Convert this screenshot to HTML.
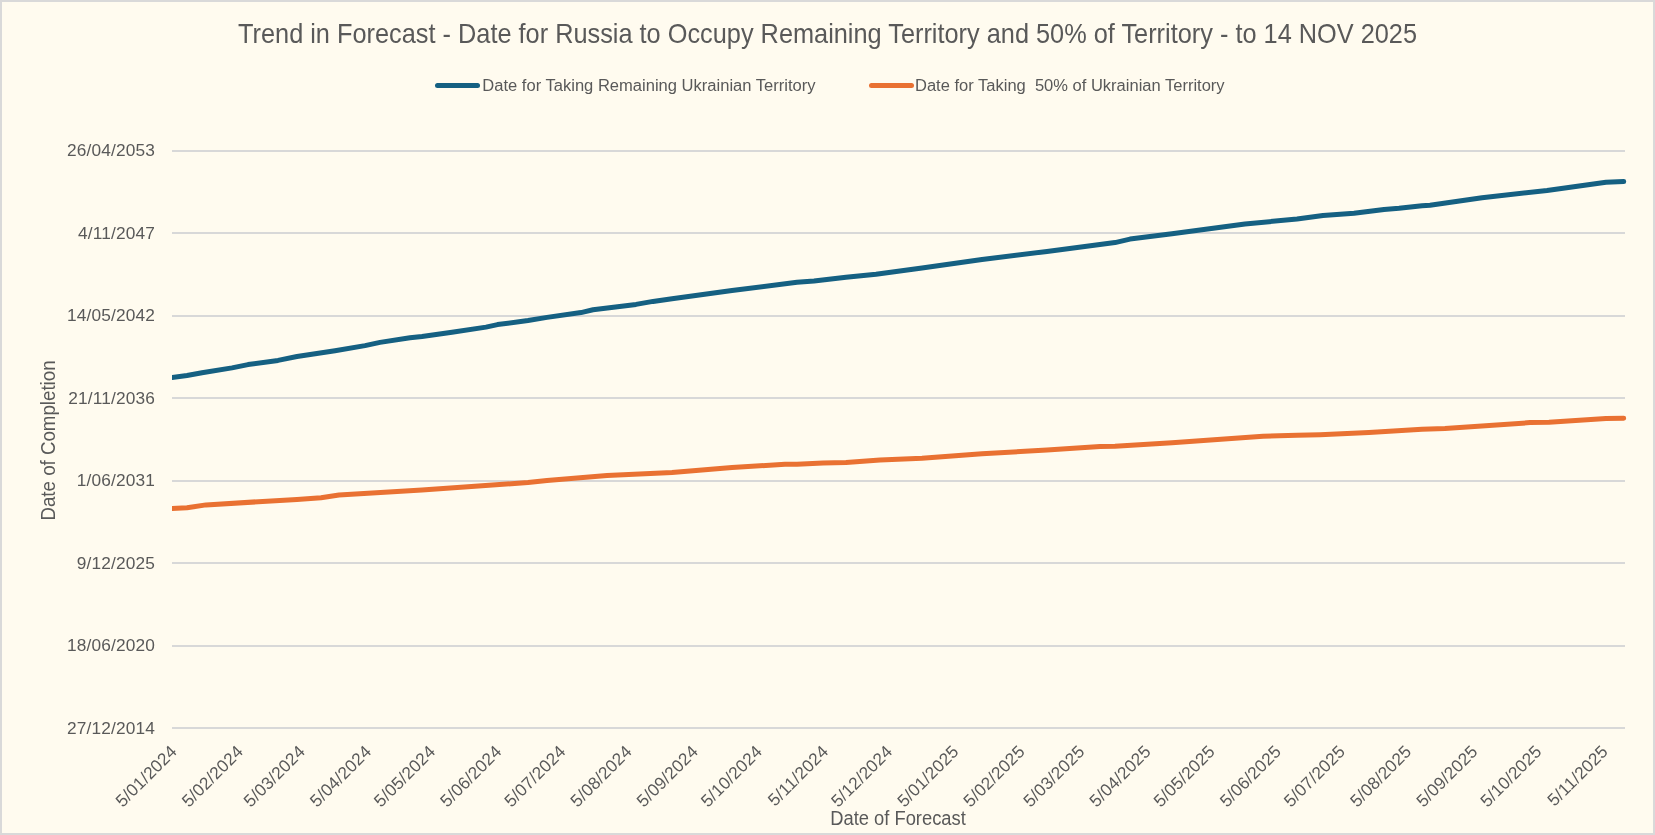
<!DOCTYPE html>
<html><head><meta charset="utf-8"><title>Trend in Forecast</title><style>
html,body{margin:0;padding:0;background:#D9D9D9;}
svg{display:block;will-change:transform;}
text{font-family:"Liberation Sans",sans-serif;fill:#595959;}
.yl{font-size:17.3px;letter-spacing:0.15px;}
.xl{font-size:17.3px;letter-spacing:0.15px;}
.lg{font-size:16px;}
.tt{font-size:28px;}
.at{font-size:19.6px;}
</style></head><body>
<svg width="1655" height="835" viewBox="0 0 1655 835">
<rect x="0" y="0" width="1655" height="835" fill="#D9D9D9"/>
<rect x="2" y="2" width="1651" height="831" fill="#FFFBEF"/>
<rect x="172" y="150" width="1453" height="2" fill="#D8D8D8"/>
<rect x="172" y="232" width="1453" height="2" fill="#D8D8D8"/>
<rect x="172" y="315" width="1453" height="2" fill="#D8D8D8"/>
<rect x="172" y="397" width="1453" height="2" fill="#D8D8D8"/>
<rect x="172" y="480" width="1453" height="2" fill="#D8D8D8"/>
<rect x="172" y="562" width="1453" height="2" fill="#D8D8D8"/>
<rect x="172" y="645" width="1453" height="2" fill="#D8D8D8"/>
<rect x="172" y="727" width="1453" height="2" fill="#D8D8D8"/>
<text x="155" y="156" text-anchor="end" class="yl">26/04/2053</text>
<text x="155" y="239" text-anchor="end" class="yl">4/11/2047</text>
<text x="155" y="321" text-anchor="end" class="yl">14/05/2042</text>
<text x="155" y="404" text-anchor="end" class="yl">21/11/2036</text>
<text x="155" y="486" text-anchor="end" class="yl">1/06/2031</text>
<text x="155" y="569" text-anchor="end" class="yl">9/12/2025</text>
<text x="155" y="651" text-anchor="end" class="yl">18/06/2020</text>
<text x="155" y="734" text-anchor="end" class="yl">27/12/2014</text>
<text transform="translate(178.00 752.7) rotate(-45)" text-anchor="end" class="xl">5/01/2024</text>
<text transform="translate(244.21 752.7) rotate(-45)" text-anchor="end" class="xl">5/02/2024</text>
<text transform="translate(306.15 752.7) rotate(-45)" text-anchor="end" class="xl">5/03/2024</text>
<text transform="translate(372.36 752.7) rotate(-45)" text-anchor="end" class="xl">5/04/2024</text>
<text transform="translate(436.43 752.7) rotate(-45)" text-anchor="end" class="xl">5/05/2024</text>
<text transform="translate(502.64 752.7) rotate(-45)" text-anchor="end" class="xl">5/06/2024</text>
<text transform="translate(566.72 752.7) rotate(-45)" text-anchor="end" class="xl">5/07/2024</text>
<text transform="translate(632.93 752.7) rotate(-45)" text-anchor="end" class="xl">5/08/2024</text>
<text transform="translate(699.14 752.7) rotate(-45)" text-anchor="end" class="xl">5/09/2024</text>
<text transform="translate(763.21 752.7) rotate(-45)" text-anchor="end" class="xl">5/10/2024</text>
<text transform="translate(829.42 752.7) rotate(-45)" text-anchor="end" class="xl">5/11/2024</text>
<text transform="translate(893.49 752.7) rotate(-45)" text-anchor="end" class="xl">5/12/2024</text>
<text transform="translate(959.70 752.7) rotate(-45)" text-anchor="end" class="xl">5/01/2025</text>
<text transform="translate(1025.91 752.7) rotate(-45)" text-anchor="end" class="xl">5/02/2025</text>
<text transform="translate(1085.72 752.7) rotate(-45)" text-anchor="end" class="xl">5/03/2025</text>
<text transform="translate(1151.92 752.7) rotate(-45)" text-anchor="end" class="xl">5/04/2025</text>
<text transform="translate(1216.00 752.7) rotate(-45)" text-anchor="end" class="xl">5/05/2025</text>
<text transform="translate(1282.21 752.7) rotate(-45)" text-anchor="end" class="xl">5/06/2025</text>
<text transform="translate(1346.28 752.7) rotate(-45)" text-anchor="end" class="xl">5/07/2025</text>
<text transform="translate(1412.49 752.7) rotate(-45)" text-anchor="end" class="xl">5/08/2025</text>
<text transform="translate(1478.70 752.7) rotate(-45)" text-anchor="end" class="xl">5/09/2025</text>
<text transform="translate(1542.78 752.7) rotate(-45)" text-anchor="end" class="xl">5/10/2025</text>
<text transform="translate(1608.99 752.7) rotate(-45)" text-anchor="end" class="xl">5/11/2025</text>
<clipPath id="c"><rect x="172" y="100" width="1480" height="700"/></clipPath>
<g clip-path="url(#c)" fill="none" stroke-width="5.0" stroke-linejoin="round" stroke-linecap="round">
<path d="M172 508.5 L187 507.8 L206 504.9 L297 499.4 L321 497.7 L339 495 L422 489.9 L482 485.7 L528 482.5 L547 480.4 L607 475.5 L672 472.4 L732 467.5 L785 464.3 L797 464.3 L823 462.9 L846 462.4 L880 459.9 L922 458.3 L982 453.8 L1047 450.1 L1100 446.5 L1115 446.3 L1172 442.65 L1263 436.3 L1297 435.2 L1320 434.7 L1369 432.6 L1422 429.25 L1445 428.6 L1530 422.6 L1549 422.3 L1606 418.4 L1623.7 418.3" stroke="#E97132"/>
<path d="M172 377.5 L187 375.5 L202 372.8 L232 367.9 L248 364.6 L278 360.4 L297 356.5 L335 350.7 L365 345.6 L380 342.4 L410 337.8 L422 336.4 L452 332.2 L486 327.1 L497.5 324.6 L528 320.5 L547 317.4 L581 312.6 L593 309.8 L636 304.4 L653 301.4 L672 298.8 L732 290.5 L797 282.2 L814 280.9 L846 277.3 L876 274.3 L922 268.1 L982 259.5 L1047 251.4 L1115 242.6 L1130 239.1 L1172 233.8 L1245 223.9 L1297 219.1 L1323 215.5 L1354 213.2 L1384 209.4 L1399 208.3 L1422 205.8 L1430 205.2 L1482 197.8 L1547 190.4 L1606 182.3 L1623.7 181.6" stroke="#156082"/>
</g>
<line x1="437.5" y1="85.4" x2="477.5" y2="85.4" stroke="#156082" stroke-width="5.0" stroke-linecap="round"/>
<line x1="871.5" y1="85.4" x2="911.5" y2="85.4" stroke="#E97132" stroke-width="5.0" stroke-linecap="round"/>
<text x="482.3" y="91" class="lg" textLength="333.3" lengthAdjust="spacingAndGlyphs">Date for Taking Remaining Ukrainian Territory</text>
<text x="915.0" y="91" class="lg" textLength="309.6" lengthAdjust="spacingAndGlyphs" xml:space="preserve">Date for Taking  50% of Ukrainian Territory</text>
<text x="238" y="43" class="tt" textLength="1179" lengthAdjust="spacingAndGlyphs">Trend in Forecast - Date for Russia to Occupy Remaining Territory and 50% of Territory - to 14 NOV 2025</text>
<text x="830.2" y="824.7" class="at" textLength="135.6" lengthAdjust="spacingAndGlyphs">Date of Forecast</text>
<text transform="translate(55 520.6) rotate(-90)" class="at" textLength="160.2" lengthAdjust="spacingAndGlyphs">Date of Completion</text>
</svg>
</body></html>
